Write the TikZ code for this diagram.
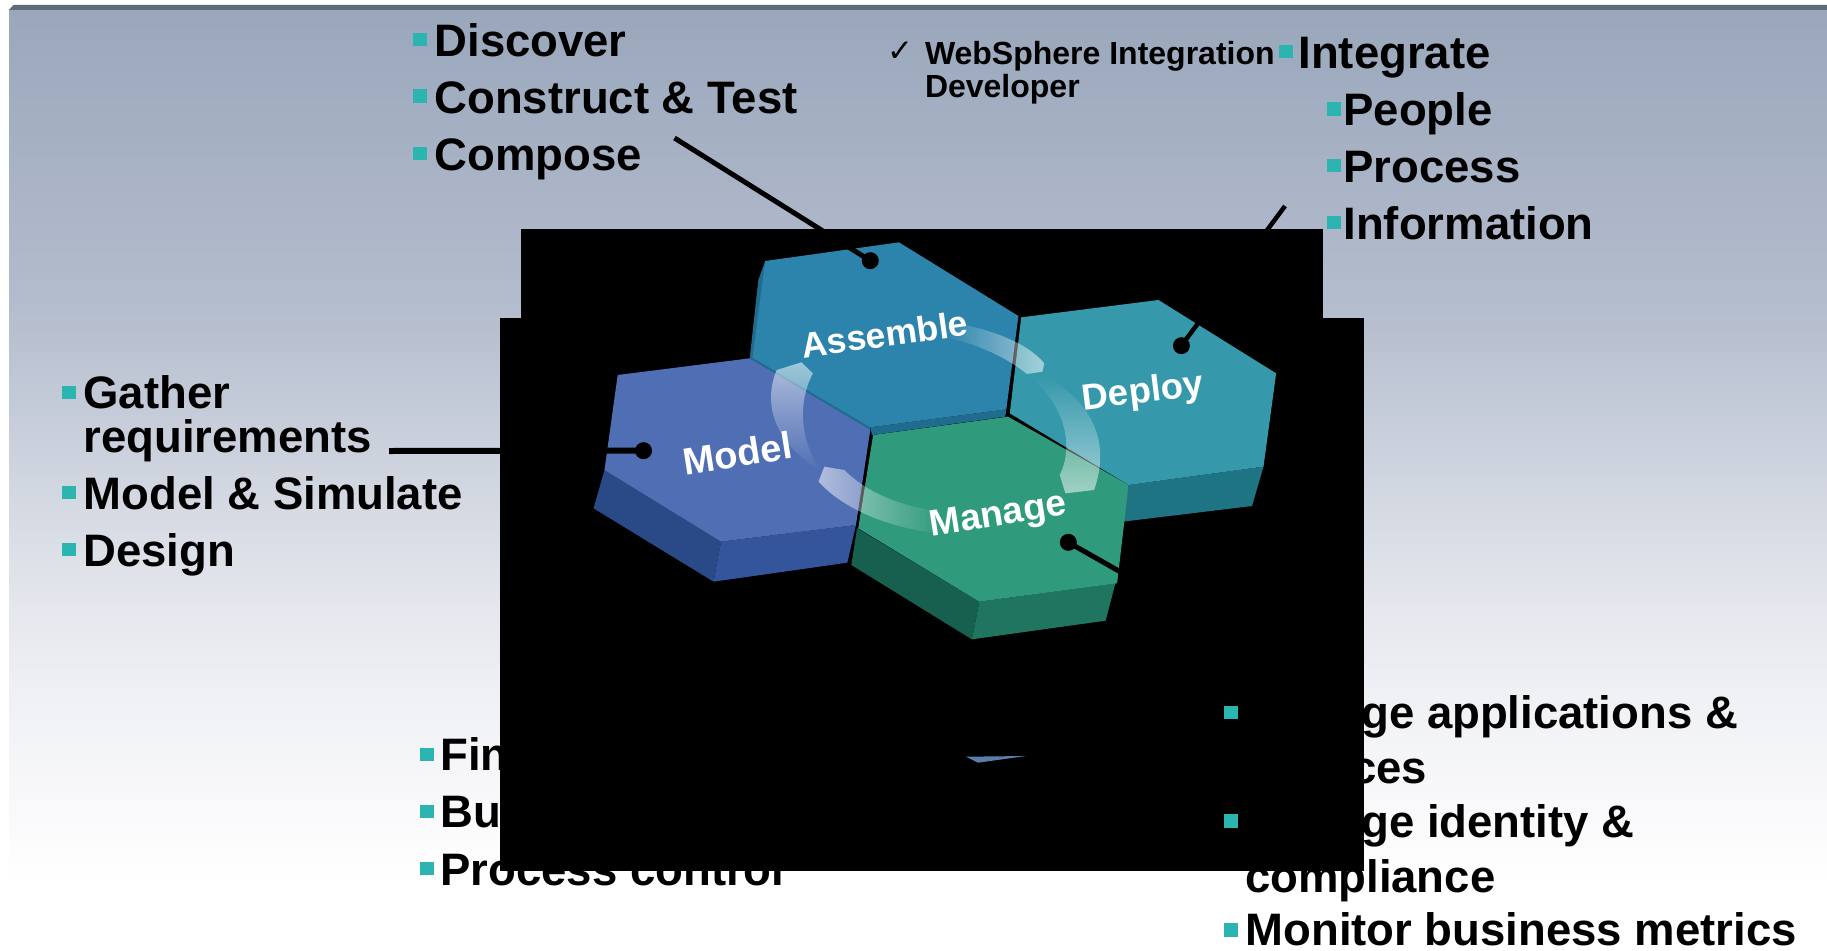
\documentclass[tikz,border=0pt]{standalone}
\usepackage{fontspec}
\setmainfont{Liberation Sans}
\newfontfamily\symfont{DejaVu Sans}
\usetikzlibrary{fadings}
\definecolor{bgA}{HTML}{9AA7BB}
\definecolor{bgB}{HTML}{B3BCCD}
\definecolor{bgC}{HTML}{E2E5EB}
\definecolor{bgD}{HTML}{F0F1F5}
\definecolor{bandc}{HTML}{5F6B78}
\definecolor{bulletc}{HTML}{2CB5B0}
\definecolor{asmTop}{HTML}{2C84AC}
\definecolor{asmDark}{HTML}{1F6C8E}
\definecolor{depTop}{HTML}{3598AB}
\definecolor{depDark}{HTML}{1F7483}
\definecolor{modTop}{HTML}{4F6EB4}
\definecolor{modLeft}{HTML}{2A4A87}
\definecolor{modRight}{HTML}{34559B}
\definecolor{manTop}{HTML}{2F9A7C}
\definecolor{manLeft}{HTML}{176050}
\definecolor{manRight}{HTML}{1F7560}
\definecolor{shardc}{HTML}{5A7EA8}
% path bounding box maps to 75bp..25bp: y=10 -> 75, y=950 -> 25
\pgfdeclareverticalshading{bgshade}{100bp}{color(0bp)=(white); color(28.4bp)=(white); color(38.3bp)=(bgD); color(44.15bp)=(bgC); color(59.57bp)=(bgB); color(75bp)=(bgA); color(100bp)=(bgA)}
\tikzfading[name=arcfade, left color=transparent!100, right color=transparent!45]
\tikzset{
  item/.style={anchor=base west,inner sep=0pt,outer sep=0pt,text=black,font=\fontsize{45.5}{45.5}\selectfont\bfseries},
  smallitem/.style={anchor=base west,inner sep=0pt,outer sep=0pt,text=black,font=\fontsize{32}{32}\selectfont\bfseries},
  hexlabel/.style={inner sep=0pt,outer sep=0pt,text=white},
  bulletbox/.style={fill=bulletc,draw=none,inner sep=0pt,outer sep=0pt,minimum width=14pt,minimum height=13.5pt},
  wire/.style={draw=black,line width=5pt},
  pin/.style={circle,fill=black,draw=none,inner sep=0pt,outer sep=0pt,minimum size=17pt},
  sweep/.style={fill=white,draw=none,path fading=arcfade}
}
\begin{document}
\begin{tikzpicture}[x=1pt,y=-1pt]
\useasboundingbox (0,0) rectangle (1827,950);
\fill[white] (0,0) rectangle (1827,950);
% slide background
\shade[shading=bgshade] (9,10) rectangle (1827,950);
\fill[bandc] (9,10) -- (13.5,5) -- (1827,5) -- (1827,10) -- cycle;
% black image boxes
\fill[black] (521,229) rectangle (1323,318);
\fill[black] (500,318) rectangle (1364,871);
\fill[shardc] (966,756.7) -- (1026,756) -- (978,762.7) -- cycle;

% hexagons, coordinates as read on the stretched crop
\begin{scope}[x=0.57405pt,y=-0.33333pt,shift={(500pt,-200pt)}]
  % Deploy
  \fill[depDark] (1095,855) -- (1330,800) -- (1310,918) -- (1085,965) -- cycle;
  \fill[depTop] (908,352) -- (1147,300) -- (1352,520) -- (1330,800) -- (1095,855) -- (888,640) -- cycle;
  % Assemble
  \fill[asmDark] (882,628) -- (645,682) -- (648,705) -- (880,650) -- cycle;
  \fill[asmDark] (462,183) -- (450,240) -- (435,475) -- (645,692) -- (645,680) -- cycle;
  \fill[asmTop] (462,183) -- (695,127) -- (903,348) -- (882,628) -- (645,682) -- (440,473) -- cycle;
  % Model
  \fill[modLeft] (182,810) -- (385,1025) -- (372,1145) -- (163,925) -- cycle;
  \fill[modRight] (385,1025) -- (620,975) -- (605,1088) -- (372,1145) -- cycle;
  \fill[modTop] (205,525) -- (435,475) -- (645,690) -- (620,975) -- (385,1025) -- (182,810) -- cycle;
  % Manage
  \fill[manLeft] (622,985) -- (835,1205) -- (822,1318) -- (612,1095) -- cycle;
  \fill[manRight] (835,1205) -- (1072,1150) -- (1055,1262) -- (822,1318) -- cycle;
  \fill[manTop] (650,705) -- (885,650) -- (1095,855) -- (1075,1150) -- (835,1205) -- (624,985) -- cycle;
  % circular arrows
  \fill[sweep,fading angle=0] (770,365) .. controls (850,380) and (920,430) .. (948,490) -- (945,515) -- (918,522) .. controls (880,470) and (830,430) .. (770,410) -- cycle;
  \fill[sweep,fading angle=-90] (950,525) .. controls (1030,610) and (1065,720) .. (1035,870) -- (985,880) -- (975,825) .. controls (1000,740) and (985,620) .. (925,530) -- cycle;
  \fill[sweep,fading angle=180] (600,810) .. controls (640,880) and (700,920) .. (770,935) -- (770,1002) .. controls (680,985) and (600,930) .. (555,845) -- (565,800) -- cycle;
  \fill[sweep,fading angle=90] (545,520) .. controls (520,600) and (520,720) .. (560,815) .. controls (470,720) and (460,600) .. (482,510) -- (525,487) -- cycle;
  % pins
  \node[pin] (pinA) at (645,182) {};
  \node[pin] (pinD) at (1187,437) {};
  \node[pin] (pinM) at (250,752) {};
  \node[pin] (pinG) at (990,1027) {};
  % hex labels
  \node[hexlabel,rotate=8,font=\fontsize{35.5}{35.5}\selectfont\bfseries] (lblA) at (670,402) {Assemble};
  \node[hexlabel,rotate=7,font=\fontsize{36.5}{36.5}\selectfont\bfseries] (lblD) at (1120,580) {Deploy};
  \node[hexlabel,rotate=9,font=\fontsize{38}{38}\selectfont\bfseries] (lblM) at (413,760) {Model};
  \node[hexlabel,rotate=9,font=\fontsize{37}{37}\selectfont\bfseries] (lblG) at (868,950) {Manage};
\end{scope}

% free ends of connectors
\coordinate (endA) at (674.5,138);
\coordinate (endD) at (1285,206);
\coordinate (endM) at (389,451);
\coordinate (endG) at (1200,617);
\draw[wire] (endA) -- (pinA.center);
\draw[wire,line width=4.5pt] (endD) -- (pinD.center);
\draw[wire,line width=6pt] (endM) -- (pinM.center);
\draw[wire] (endG) -- (pinG.center);

% top-left list
\node[bulletbox] (b1) at (420,39.5) {};
\node[item] (t1) at (434.5,56.5) {Discover};
\node[bulletbox] (b2) at (420,96) {};
\node[item] (t2) at (434.5,113.5) {Construct \& Test};
\node[bulletbox] (b3) at (420,153.5) {};
\node[item] (t3) at (434.5,170.5) {Compose};

% tool note
\node[anchor=base west,inner sep=0pt,font=\symfont\fontsize{31}{31}\selectfont] (chk) at (887,61) {✓};
\node[smallitem] (w1) at (925,64) {WebSphere Integration};
\node[smallitem] (w2) at (925,97) {Developer};

% integrate list
\node[bulletbox] (b4) at (1285.5,51.5) {};
\node[item] (t4) at (1298.5,68.5) {Integrate};
\node[bulletbox] (b5) at (1334,109) {};
\node[item] (t5) at (1343.5,125.5) {People};
\node[bulletbox] (b6) at (1334,165.5) {};
\node[item] (t6) at (1343.5,182.5) {Process};
\node[bulletbox] (b7) at (1334,222.5) {};
\node[item] (t7) at (1343.5,239) {Information};

% left list
\node[bulletbox] (b8) at (69.3,392.3) {};
\node[item] (t8) at (83.5,408) {Gather};
\node[item] (t8b) at (83.5,452) {requirements};
\node[bulletbox] (b9) at (69.3,492.3) {};
\node[item] (t9) at (83.5,509) {Model \& Simulate};
\node[bulletbox] (b10) at (69.3,549.3) {};
\node[item] (t10) at (83.5,566.2) {Design};

% bottom-left list
\node[bulletbox] (b11) at (426.7,754.5) {};
\node[item] (t11) at (440.5,770.5) {Fin};
\node[bulletbox] (b12) at (426.7,811.5) {};
\node[item] (t12) at (440.5,827.5) {Bu};
\node[bulletbox] (b13) at (426.7,868.5) {};
\node[item] (t13) at (440.5,885) {Process control};

% bottom-right list
\node[bulletbox] (b14) at (1231,712.3) {};
\node[item] (t14) at (1245,728.5) {Manage applications \&};
\node[item] (t14b) at (1245,783) {services};
\node[bulletbox] (b15) at (1231,821) {};
\node[item] (t15) at (1245,837.5) {Manage identity \&};
\node[item] (t15b) at (1245,892) {compliance};
\node[bulletbox] (b16) at (1231,930) {};
\node[item] (t16) at (1245.5,945.5) {Monitor business metrics};
\end{tikzpicture}
\end{document}
